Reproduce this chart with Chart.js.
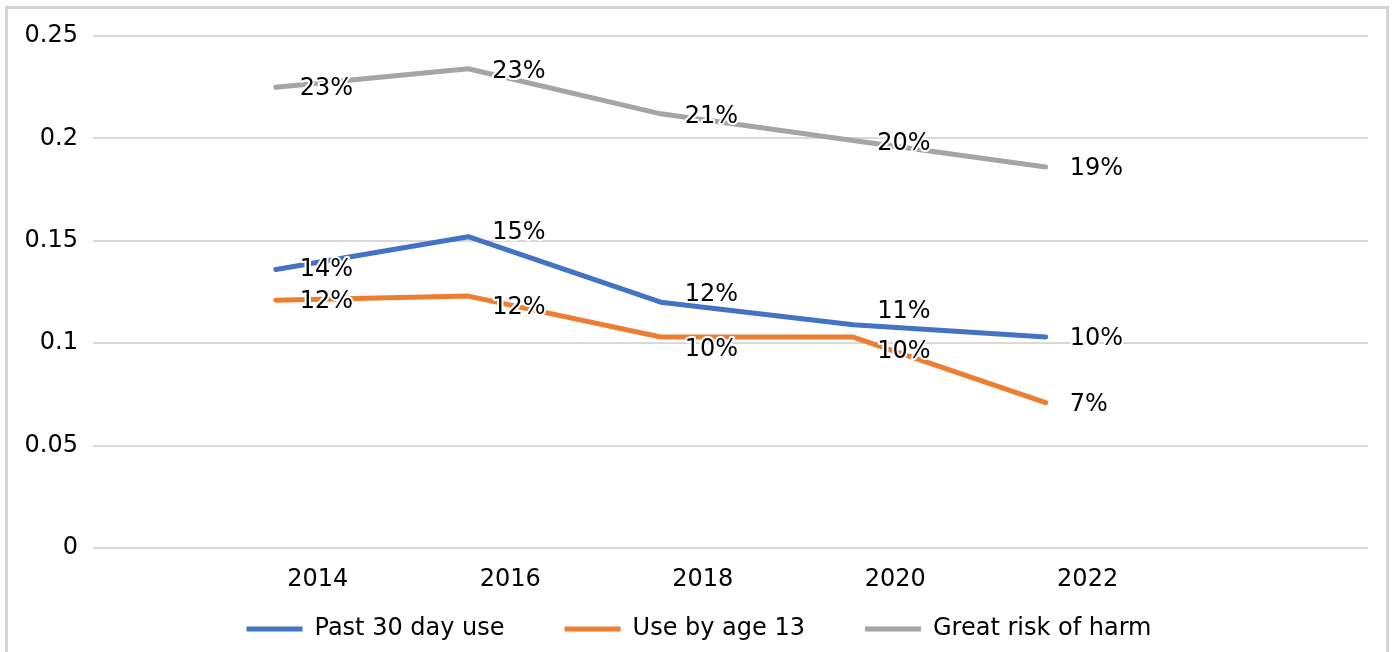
<!DOCTYPE html>
<html>
<head>
<meta charset="utf-8">
<script src="https://cdn.jsdelivr.net/npm/chart.js@4/dist/chart.umd.min.js"></script>
<style>
  body { margin: 0; background: #fff; }
  #frame {
    position: absolute; left: 5px; top: 6px; width: 1384px; height: 650px;
    box-sizing: border-box; border: 3px solid #d4d4d4; border-bottom-width: 1px;
  }
  #wrap { position: absolute; left: 0; top: 0; width: 1396px; height: 652px; }
</style>
</head>
<body>
<div id="frame"></div>
<div id="wrap"><canvas id="chart"></canvas></div>
<script>
const years = [2014, 2016, 2018, 2020, 2022];
const pastUse = [0.136, 0.152, 0.120, 0.109, 0.103];
const useBy13 = [0.121, 0.123, 0.103, 0.103, 0.071];
const riskHarm = [0.225, 0.234, 0.212, 0.199, 0.186];
const yTicks = [0, 0.05, 0.1, 0.15, 0.2, 0.25];

const FONT = "'DejaVu Sans', sans-serif";

function points(vals) {
    return vals.map((v, i) => ({x: years[i], y: v}));
}

// data labels, drawn right of each point with a white halo like Excel
const pointLabels = {
    id: "pointLabels",
    afterDatasetsDraw(chart) {
        const ctx = chart.ctx;
        ctx.save();
        ctx.font = "24px " + FONT;
        ctx.textAlign = "left";
        ctx.textBaseline = "middle";
        ctx.lineJoin = "round";
        chart.data.datasets.forEach((ds, d) => {
            const meta = chart.getDatasetMeta(d);
            meta.data.forEach((el, i) => {
                const txt = Math.round(ds.data[i].y * 100) + "%";
                const x = el.x + 24;
                const y = el.y + 2 + (ds.labelDy ? ds.labelDy[i] : 0);
                ctx.strokeStyle = "#fff";
                ctx.lineWidth = 4;
                ctx.strokeText(txt, x, y);
                ctx.fillStyle = "#000";
                ctx.fillText(txt, x, y);
            });
        });
        ctx.restore();
    }
};

// the legend keeps wide gaps between items, so pull it up under the axis labels
const legendPlace = {
    id: "legendPlace",
    afterLayout(chart) {
        const lg = chart.legend;
        lg.top = 557;
        lg.height = lg.bottom - lg.top;
        lg.left += 15;
        lg.right += 15;
    }
};

function line(label, vals, color, dy) {
    return {
        label: label,
        data: points(vals),
        borderColor: color,
        backgroundColor: color,
        borderWidth: 5,
        borderCapStyle: "round",
        borderJoinStyle: "round",
        pointRadius: 0,
        tension: 0,
        labelDy: dy
    };
}

const ctx = document.getElementById("chart");
new Chart(ctx, {
    type: "line",
    data: {
        datasets: [
            line("Past 30 day use", pastUse, "#4472C4", [-2, -6, -9, -15, 0]),
            line("Use by age 13", useBy13, "#ED7D31", [0, 10, 11, 13, 0]),
            line("Great risk of harm", riskHarm, "#A5A5A5", [0, 1, 1, 1, 0])
        ]
    },
    options: {
        responsive: true,
        maintainAspectRatio: false,
        animation: false,
        layout: { padding: { top: 36, left: 0, right: 28, bottom: 0 } },
        plugins: {
            tooltip: { enabled: false },
            legend: {
                position: "bottom",
                maxHeight: 59,
                labels: {
                    usePointStyle: true,
                    pointStyle: "line",
                    pointStyleWidth: 56,
                    boxWidth: 56,
                    padding: 60,
                    color: "#000",
                    font: { family: FONT, size: 24 }
                }
            }
        },
        scales: {
            x: {
                type: "linear",
                min: 2012.1,
                max: 2025.35,
                grid: { display: false },
                border: { display: false },
                afterBuildTicks: s => { s.ticks = years.map(v => ({value: v})); },
                afterFit: s => { s.height = 45; },
                ticks: {
                    padding: 9,
                    labelOffset: 42,
                    maxRotation: 0,
                    autoSkip: false,
                    color: "#000",
                    font: { family: FONT, size: 24 },
                    callback: v => String(v)
                }
            },
            y: {
                min: 0,
                max: 0.25,
                afterBuildTicks: s => { s.ticks = yTicks.map(v => ({value: v})); },
                afterFit: s => { s.width = 93; },
                grid: { color: "#d9d9d9", lineWidth: 2, drawTicks: false },
                border: { display: false },
                ticks: {
                    padding: 15,
                    color: "#000",
                    font: { family: FONT, size: 24 },
                    callback: v => String(Math.round(v * 100) / 100)
                }
            }
        }
    },
    plugins: [pointLabels, legendPlace]
});
</script>
</body>
</html>
